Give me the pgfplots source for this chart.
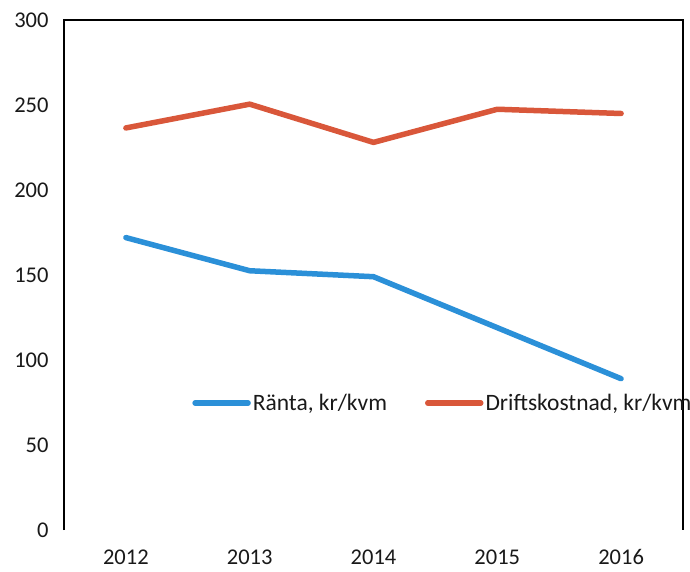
\documentclass[border=0pt]{standalone}
\usepackage{pgfplots}
\pgfplotsset{compat=1.18}
\usepackage{fontspec}
\setmainfont{Carlito}
\definecolor{rblue}{HTML}{2B90D8}
\definecolor{dorange}{HTML}{D9573A}
\begin{document}
\begin{tikzpicture}
\useasboundingbox (-64pt,-41pt) rectangle (626pt,530pt);
\begin{axis}[
  at={(0,0)}, anchor=south west,
  scale only axis, width=619pt, height=510pt,
  xmin=-0.5, xmax=4.5, ymin=0, ymax=300,
  xtick={0,1,2,3,4}, xticklabels={2012,2013,2014,2015,2016},
  ytick={0,50,100,150,200,250,300},
  major tick length=0pt,
  axis line style={draw=none},
  clip=false,
  tick label style={font=\fontsize{22.5}{26}\selectfont, text=black!90},
  /pgf/number format/assume math mode=true,
  xticklabel style={yshift=-16pt},
  yticklabel style={xshift=-12pt},
  legend style={draw=none, fill=none, at={(rel axis cs:0.207,0.249)}, anchor=west,
    font=\fontsize{23.5}{27}\selectfont, text=black!90, inner sep=0pt,
    column sep=0pt, nodes={inner sep=2pt},
    /tikz/every even column/.append style={column sep=36pt}},
  legend columns=2,
  legend image code/.code={\draw[#1, line width=5.5pt] (0pt,0pt) -- (53pt,0pt);},
]
\draw[black, line width=1.8pt] (rel axis cs:0,0) -- (rel axis cs:0,1) -- (rel axis cs:1,1) -- (rel axis cs:1,0);
\addplot[rblue, line width=5.5pt, line join=round, line cap=round] coordinates {(0,172) (1,152.5) (2,149) (3,119) (4,89)};
\addlegendentry{Ränta, kr/kvm}
\addplot[dorange, line width=5.5pt, line join=round, line cap=round] coordinates {(0,236.5) (1,250.5) (2,228) (3,247.5) (4,245)};
\addlegendentry{Driftskostnad, kr/kvm}
\end{axis}
\end{tikzpicture}
\end{document}
